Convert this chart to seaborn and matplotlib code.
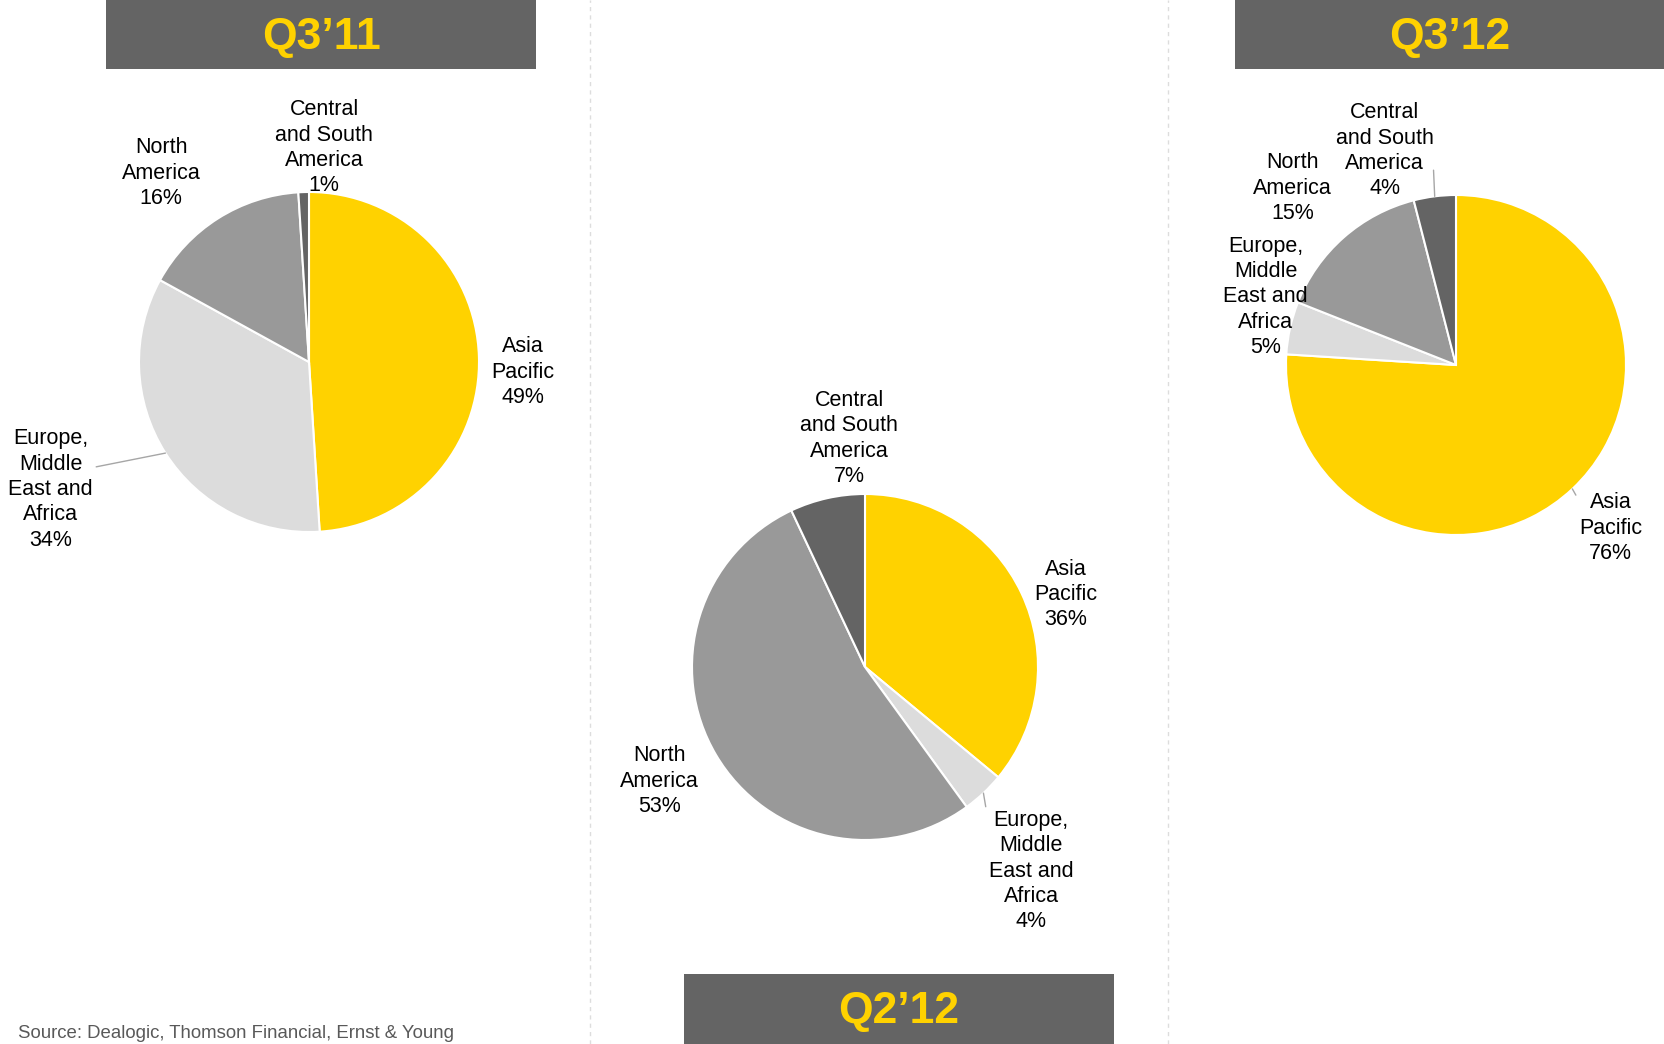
import numpy as np
import pandas as pd
import seaborn as sns
from matplotlib import pyplot as plt
from matplotlib.patches import Rectangle

sns.set_theme(style="white")
plt.rcParams["font.family"] = ["Liberation Sans", "DejaVu Sans"]

# data
regions = ["Asia\nPacific", "Europe,\nMiddle\nEast and\nAfrica", "North\nAmerica", "Central\nand South\nAmerica"]
periods = ["Q3\u201911", "Q2\u201912", "Q3\u201912"]
share_q3_11 = [49, 34, 16, 1]
share_q2_12 = [36, 4, 53, 7]
share_q3_12 = [76, 5, 15, 4]
region_colors = ["#FFD200", "#DCDCDC", "#999999", "#646464"]
source = "Source: Dealogic, Thomson Financial, Ernst & Young"

# layout (figure pixels, y from bottom)
W, H = 1664, 1044
pie_centers = [(309, 682), (865, 377), (1456, 679)]
pie_radius = [170, 173, 170]
banners = [(106, 975, 430, 69), (684, 0, 430, 70), (1235, 975, 429, 69)]
# label offsets in units of radius, one per region
label_pos = [
    [(1.26, -0.06), (-1.52, -0.75), (-0.87, 1.11), (0.09, 1.26)],
    [(1.16, 0.42), (0.96, -1.18), (-1.19, -0.66), (-0.09, 1.32)],
    [(0.91, -0.96), (-1.12, 0.40), (-0.96, 1.04), (-0.42, 1.26)],
]
# leader line anchor on the label box (None = no leader)
leaders = [
    [None, (1.0, 0.68), None, None],
    [None, (0.0, 0.88), None, None],
    [(0.0, 0.88), None, None, (1.0, 0.3)],
]

df = pd.DataFrame({"region": regions, periods[0]: share_q3_11,
                   periods[1]: share_q2_12, periods[2]: share_q3_12})

fig = plt.figure(figsize=(W / 100, H / 100), dpi=100)
ax = fig.add_axes([0, 0, 1, 1])

for i, period in enumerate(periods):
    cx, cy = pie_centers[i]
    r = pie_radius[i]
    wedges, _ = ax.pie(df[period], colors=region_colors, startangle=90, counterclock=False,
                       center=(cx, cy), radius=r,
                       wedgeprops=dict(edgecolor="white", linewidth=1.5))
    for j, w in enumerate(wedges):
        txt = f"{df['region'][j]}\n{df[period][j]}%"
        lx = cx + label_pos[i][j][0] * r
        ly = cy + label_pos[i][j][1] * r
        if leaders[i][j] is not None:
            mid = np.deg2rad((w.theta1 + w.theta2) / 2)
            ex, ey = cx + r * np.cos(mid), cy + r * np.sin(mid)
            ax.annotate(txt, xy=(ex, ey), xytext=(lx, ly), ha="center", va="center",
                        fontsize=15.5, linespacing=1.27, color="black",
                        arrowprops=dict(arrowstyle="-", color="#a6a6a6", lw=1,
                                        shrinkA=0, shrinkB=0, relpos=leaders[i][j]))
        else:
            ax.text(lx, ly, txt, ha="center", va="center", fontsize=15.5,
                    linespacing=1.27, color="black")

    bx, by, bw, bh = banners[i]
    ax.add_patch(Rectangle((bx, by), bw, bh, facecolor="#646464", edgecolor="none"))
    ax.text(bx + bw / 2, by + bh / 2 - 3, period, ha="center", va="center",
            fontsize=32, fontweight="bold", color="#FFD200")

for x in [590, 1168]:
    ax.axvline(x, color="#dddddd", lw=1, linestyle=(0, (3, 3)))

ax.text(18, 10, source, ha="left", va="center", fontsize=13.4, color="#595959")

ax.set_xlim(0, W)
ax.set_ylim(0, H)
ax.set_aspect("equal")
ax.axis("off")

fig.savefig("out.png", dpi=100)
